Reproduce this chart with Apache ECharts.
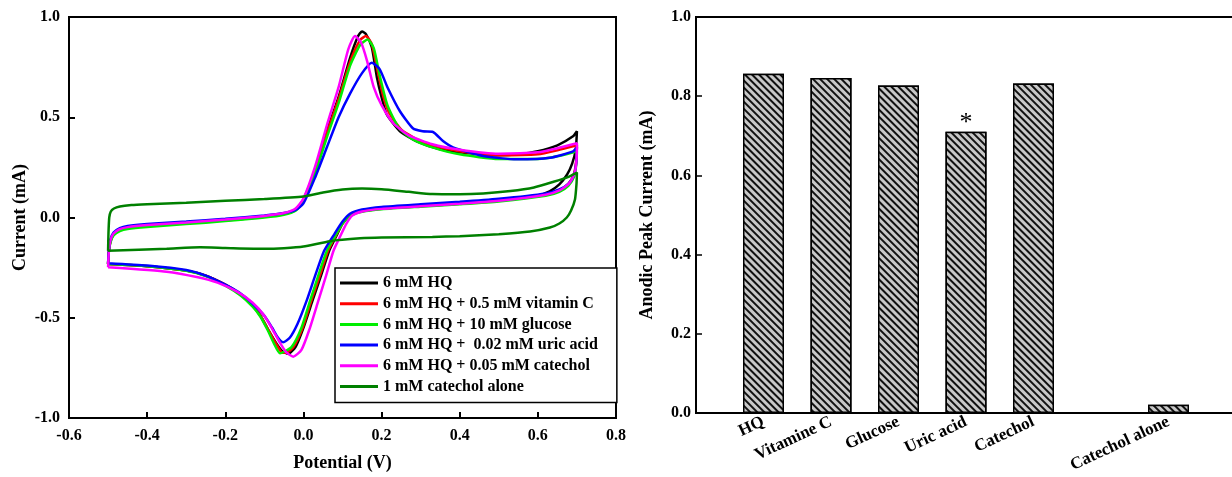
<!DOCTYPE html>
<html>
<head>
<meta charset="utf-8">
<script src="https://cdn.jsdelivr.net/npm/echarts@6/dist/echarts.min.js"></script>
<style>
  html, body { margin: 0; padding: 0; background: #fff; }
  #main { width: 1232px; height: 477px; }
</style>
</head>
<body>
<div id="main"></div>
<script>
// left panel: cyclic voltammograms, [potential V, current mA]
const hq = [
  [-0.5,-0.232],[-0.498,-0.17],[-0.494,-0.12],[-0.486,-0.085],[-0.47,-0.063],[-0.45,-0.052],[-0.4,-0.042],[-0.3,-0.028],[-0.2,-0.014],[-0.1,0.004],[-0.05,0.018],[-0.02,0.04],[0.0,0.09],[0.03,0.24],[0.06,0.43],[0.09,0.6],[0.12,0.8],[0.14,0.905],[0.15,0.928],[0.16,0.915],[0.175,0.85],[0.188,0.7],[0.2,0.6],[0.213,0.515],[0.247,0.43],[0.29,0.38],[0.35,0.34],[0.4,0.325],[0.5,0.31],[0.55,0.315],[0.6,0.33],[0.65,0.36],[0.69,0.405],[0.7,0.43],
  [0.697,0.34],[0.688,0.27],[0.675,0.215],[0.655,0.165],[0.63,0.13],[0.6,0.11],[0.5,0.085],[0.4,0.07],[0.3,0.058],[0.2,0.045],[0.15,0.032],[0.12,0.012],[0.1,-0.03],[0.085,-0.09],[0.066,-0.166],[0.045,-0.29],[0.023,-0.416],[0.0,-0.55],[-0.02,-0.645],[-0.039,-0.68],[-0.055,-0.665],[-0.07,-0.625],[-0.09,-0.56],[-0.11,-0.49],[-0.13,-0.44],[-0.16,-0.385],[-0.2,-0.335],[-0.25,-0.29],[-0.3,-0.265],[-0.4,-0.243],[-0.5,-0.232]
];
const hqVitC = [
  [-0.5,-0.232],[-0.498,-0.17],[-0.494,-0.12],[-0.486,-0.085],[-0.47,-0.063],[-0.45,-0.052],[-0.4,-0.042],[-0.3,-0.028],[-0.2,-0.013],[-0.1,0.005],[-0.05,0.018],[-0.02,0.038],[0.0,0.085],[0.03,0.23],[0.06,0.42],[0.09,0.59],[0.12,0.78],[0.145,0.885],[0.16,0.905],[0.175,0.865],[0.19,0.73],[0.205,0.6],[0.22,0.52],[0.25,0.44],[0.29,0.39],[0.34,0.355],[0.4,0.33],[0.5,0.31],[0.6,0.315],[0.65,0.335],[0.7,0.36],
  [0.698,0.28],[0.692,0.215],[0.678,0.168],[0.655,0.135],[0.62,0.112],[0.5,0.084],[0.4,0.069],[0.3,0.057],[0.2,0.044],[0.15,0.031],[0.12,0.011],[0.1,-0.03],[0.083,-0.09],[0.063,-0.166],[0.042,-0.29],[0.02,-0.416],[-0.002,-0.55],[-0.025,-0.645],[-0.045,-0.675],[-0.056,-0.672],[-0.07,-0.63],[-0.09,-0.56],[-0.11,-0.49],[-0.13,-0.44],[-0.16,-0.385],[-0.2,-0.335],[-0.25,-0.29],[-0.3,-0.265],[-0.4,-0.243],[-0.5,-0.232]
];
const hqGlucose = [
  [-0.5,-0.232],[-0.498,-0.17],[-0.494,-0.125],[-0.486,-0.09],[-0.47,-0.068],[-0.45,-0.057],[-0.4,-0.047],[-0.3,-0.033],[-0.2,-0.018],[-0.1,0.0],[-0.05,0.014],[-0.02,0.034],[0.0,0.08],[0.03,0.22],[0.06,0.4],[0.09,0.57],[0.12,0.76],[0.145,0.86],[0.164,0.888],[0.18,0.845],[0.195,0.71],[0.215,0.56],[0.245,0.445],[0.28,0.39],[0.33,0.35],[0.4,0.315],[0.5,0.292],[0.6,0.292],[0.65,0.305],[0.7,0.33],
  [0.698,0.26],[0.692,0.2],[0.678,0.158],[0.655,0.128],[0.62,0.108],[0.5,0.08],[0.4,0.066],[0.3,0.054],[0.2,0.041],[0.15,0.028],[0.12,0.008],[0.1,-0.03],[0.082,-0.09],[0.06,-0.166],[0.038,-0.29],[0.017,-0.416],[-0.005,-0.55],[-0.03,-0.645],[-0.06,-0.677],[-0.075,-0.63],[-0.092,-0.56],[-0.11,-0.495],[-0.13,-0.445],[-0.16,-0.39],[-0.2,-0.34],[-0.25,-0.292],[-0.3,-0.266],[-0.4,-0.243],[-0.5,-0.232]
];
const hqUric = [
  [-0.5,-0.228],[-0.498,-0.165],[-0.494,-0.11],[-0.486,-0.075],[-0.47,-0.053],[-0.45,-0.042],[-0.4,-0.032],[-0.3,-0.02],[-0.2,-0.006],[-0.1,0.01],[-0.05,0.022],[-0.02,0.038],[0.0,0.07],[0.03,0.2],[0.06,0.35],[0.09,0.5],[0.12,0.62],[0.15,0.72],[0.175,0.772],[0.195,0.74],[0.215,0.65],[0.247,0.53],[0.28,0.445],[0.305,0.43],[0.33,0.428],[0.358,0.38],[0.383,0.35],[0.46,0.307],[0.546,0.29],[0.631,0.298],[0.69,0.33],[0.7,0.35],
  [0.698,0.27],[0.692,0.21],[0.678,0.168],[0.655,0.14],[0.62,0.12],[0.5,0.093],[0.4,0.078],[0.3,0.066],[0.2,0.053],[0.15,0.04],[0.12,0.02],[0.1,-0.02],[0.08,-0.08],[0.053,-0.166],[0.03,-0.29],[0.008,-0.416],[-0.015,-0.53],[-0.035,-0.6],[-0.052,-0.622],[-0.065,-0.6],[-0.08,-0.55],[-0.1,-0.49],[-0.13,-0.43],[-0.16,-0.38],[-0.2,-0.335],[-0.25,-0.29],[-0.3,-0.262],[-0.4,-0.24],[-0.5,-0.228]
];
const hqCatechol = [
  [-0.5,-0.248],[-0.498,-0.17],[-0.494,-0.115],[-0.486,-0.08],[-0.47,-0.058],[-0.45,-0.048],[-0.4,-0.038],[-0.3,-0.025],[-0.2,-0.01],[-0.1,0.008],[-0.05,0.022],[-0.02,0.045],[0.0,0.095],[0.03,0.255],[0.06,0.46],[0.09,0.65],[0.115,0.84],[0.132,0.905],[0.148,0.87],[0.163,0.78],[0.18,0.65],[0.2,0.56],[0.23,0.47],[0.27,0.41],[0.33,0.365],[0.4,0.338],[0.5,0.318],[0.6,0.325],[0.65,0.345],[0.7,0.37],
  [0.699,0.29],[0.694,0.22],[0.68,0.17],[0.655,0.135],[0.62,0.113],[0.5,0.083],[0.4,0.068],[0.3,0.056],[0.2,0.043],[0.15,0.03],[0.125,0.01],[0.11,-0.03],[0.095,-0.09],[0.077,-0.166],[0.058,-0.29],[0.038,-0.416],[0.015,-0.56],[-0.005,-0.66],[-0.026,-0.694],[-0.045,-0.67],[-0.06,-0.625],[-0.08,-0.555],[-0.1,-0.49],[-0.13,-0.425],[-0.17,-0.37],[-0.22,-0.325],[-0.27,-0.298],[-0.35,-0.27],[-0.5,-0.248]
];
const catecholAlone = [
  [-0.5,-0.166],[-0.499,-0.08],[-0.497,0.0],[-0.493,0.03],[-0.485,0.045],[-0.47,0.055],[-0.44,0.062],[-0.4,0.066],[-0.3,0.074],[-0.2,0.083],[-0.1,0.092],[0.0,0.105],[0.05,0.125],[0.1,0.14],[0.15,0.145],[0.2,0.141],[0.27,0.128],[0.33,0.117],[0.4,0.116],[0.46,0.12],[0.53,0.132],[0.59,0.15],[0.64,0.178],[0.675,0.2],[0.7,0.224],
  [0.699,0.17],[0.695,0.09],[0.685,0.035],[0.674,0.0],[0.655,-0.03],[0.631,-0.05],[0.58,-0.07],[0.5,-0.083],[0.4,-0.093],[0.33,-0.097],[0.2,-0.1],[0.145,-0.104],[0.068,-0.118],[0.0,-0.145],[-0.05,-0.153],[-0.1,-0.156],[-0.2,-0.152],[-0.265,-0.149],[-0.35,-0.156],[-0.5,-0.166]
];

const cvNames = ['6 mM HQ', '6 mM HQ + 0.5 mM vitamin C', '6 mM HQ + 10 mM glucose',
  '6 mM HQ +  0.02 mM uric acid', '6 mM HQ + 0.05 mM catechol', '1 mM catechol alone'];
const cvColors = ['#000000', '#ff0000', '#00ee00', '#0000ff', '#ff00ff', '#008000'];
const cvData = [hq, hqVitC, hqGlucose, hqUric, hqCatechol, catecholAlone];

// right panel: anodic peak currents
const barCategories = ['', 'HQ', 'Vitamine C', 'Glucose', 'Uric acid', 'Catechol', '', 'Catechol alone', ''];
const barValues = [null, 0.857, 0.846, 0.827, 0.710, 0.832, null, 0.021, null];
const barMarks = ['', '', '', '', '*', '', '', '', ''];

const serif = 'Liberation Serif, Times New Roman, serif';
const tickFont = { fontFamily: serif, fontWeight: 'bold', fontSize: 16, color: '#000' };
const nameFont = { fontFamily: serif, fontWeight: 'bold', fontSize: 18, color: '#000' };
const axisLine = { show: true, onZero: false, lineStyle: { color: '#000', width: 2 } };

let myChart = echarts.init(document.getElementById('main'));

let series = cvData.map((d, i) => ({
  name: cvNames[i],
  type: 'line',
  xAxisIndex: 0,
  yAxisIndex: 0,
  data: d,
  smooth: 0.2,
  showSymbol: false,
  lineStyle: { color: cvColors[i], width: 2.5 },
  itemStyle: { color: cvColors[i] },
  animation: false
}));

series.push({
  type: 'bar',
  xAxisIndex: 1,
  yAxisIndex: 1,
  barWidth: 41,
  data: barValues,
  itemStyle: {
    color: '#c8c8c8',
    borderColor: '#000',
    borderWidth: 1.5,
    decal: {
      symbol: 'rect',
      symbolSize: 1,
      dashArrayX: [1, 0],
      dashArrayY: [1.3, 2.2],
      rotation: Math.PI / 4,
      color: '#111',
      backgroundColor: '#c8c8c8'
    }
  },
  label: {
    show: true,
    position: 'top',
    distance: -4,
    formatter: p => barMarks[p.dataIndex],
    fontFamily: serif,
    fontWeight: 'normal',
    fontSize: 26,
    color: '#000'
  },
  animation: false
});

const fmt1 = v => (Math.abs(v) < 1e-9 ? 0 : v).toFixed(1);

let option = {
  backgroundColor: '#fff',
  animation: false,
  grid: [
    { left: 69, right: 616, top: 17, bottom: 59, outerBoundsMode: 'none', containLabel: false,
      show: true, borderColor: '#000', borderWidth: 2 },
    { left: 696, width: 540, top: 17, bottom: 64, outerBoundsMode: 'none', containLabel: false,
      show: true, borderColor: '#000', borderWidth: 2 }
  ],
  legend: {
    data: cvNames,
    orient: 'vertical',
    left: 335,
    top: 268,
    padding: [7, 19, 8, 5],
    itemWidth: 38,
    itemHeight: 3,
    itemGap: 4.7,
    icon: 'rect',
    backgroundColor: '#fff',
    borderColor: '#000',
    borderWidth: 1.5,
    textStyle: { fontFamily: serif, fontWeight: 'bold', fontSize: 16, lineHeight: 16, color: '#000' }
  },
  xAxis: [
    {
      gridIndex: 0,
      type: 'value',
      min: -0.6,
      max: 0.8,
      interval: 0.2,
      name: 'Potential (V)',
      nameLocation: 'middle',
      nameGap: 36,
      nameTextStyle: nameFont,
      axisLine: axisLine,
      axisTick: { show: true, inside: true, length: 6, lineStyle: { color: '#000', width: 2 } },
      axisLabel: Object.assign({ margin: 10, formatter: fmt1 }, tickFont),
      splitLine: { show: false }
    },
    {
      gridIndex: 1,
      type: 'category',
      data: barCategories,
      boundaryGap: false,
      axisLine: axisLine,
      axisTick: { show: false },
      axisLabel: Object.assign({ interval: 0, rotate: 25, margin: 8 }, tickFont, { fontSize: 17 }),
      splitLine: { show: false }
    }
  ],
  yAxis: [
    {
      gridIndex: 0,
      type: 'value',
      min: -1.0,
      max: 1.0,
      interval: 0.5,
      name: 'Current (mA)',
      nameLocation: 'middle',
      nameGap: 40,
      nameTextStyle: nameFont,
      axisLine: axisLine,
      axisTick: { show: true, inside: true, length: 6, lineStyle: { color: '#000', width: 2 } },
      axisLabel: Object.assign({ margin: 9, formatter: fmt1 }, tickFont),
      splitLine: { show: false }
    },
    {
      gridIndex: 1,
      type: 'value',
      min: 0,
      max: 1.0,
      interval: 0.2,
      name: 'Anodic Peak Current (mA)',
      nameLocation: 'middle',
      nameGap: 40,
      nameTextStyle: nameFont,
      axisLine: axisLine,
      axisTick: { show: true, inside: true, length: 6, lineStyle: { color: '#000', width: 1.5 } },
      axisLabel: Object.assign({ margin: 5, formatter: fmt1 }, tickFont),
      splitLine: { show: false }
    }
  ],
  series: series
};

myChart.setOption(option);
</script>
</body>
</html>
